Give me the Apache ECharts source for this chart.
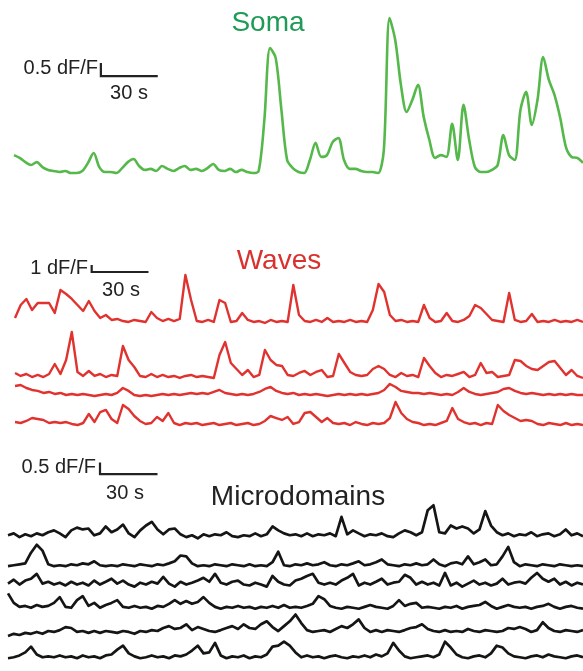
<!DOCTYPE html>
<html>
<head>
<meta charset="utf-8">
<title>Soma / Waves / Microdomains</title>
<script src="https://cdn.jsdelivr.net/npm/echarts@6/dist/echarts.min.js"></script>
<style>
    html, body { margin: 0; padding: 0; background: #fff; }
    #main { width: 583px; height: 671px; }
</style>
</head>
<body>
<div id="main"></div>
<script>
// seconds between two samples of every trace
var sampleStep = 3;

// soma trace, dF/F
var somaTrace = [
    0.65, 0.54, 0.38, 0.27, 0.38, 0.19, 0.08, 0.04, 0, 0.04,
    -0.04, -0.04, 0.04, 0.35, 0.73, 0.19, 0, 0, -0.04, 0.15,
    0.38, 0.5, 0.23, 0.08, 0.12, 0.04, 0.23, 0.12, 0.04, 0.15,
    0.23, 0.08, 0.12, 0.04, 0.15, 0.31, 0.08, 0.04, 0.12, 0,
    0.08, 0, -0.04, 0.04, 2.0, 4.77, 4.38, 2.38, 0.46, 0.15,
    0, -0.04, 0.46, 1.12, 0.58, 0.65, 1.15, 1.31, 0.46, 0.12,
    0.12, 0.04, 0, 0, -0.04, 0.85, 5.92, 5.08, 3.35, 2.31,
    2.77, 3.35, 2.12, 1.23, 0.54, 0.65, 0.58, 1.85, 0.46, 2.58,
    1.23, 0.19, 0, 0, 0.08, 0.27, 1.42, 0.65, 0.46, 2.38,
    3.08, 1.81, 2.77, 4.42, 3.54, 2.96, 2.08, 0.96, 0.58, 0.54,
    0.35
];

// wave traces, dF/F
var wave1 = [
    0.57, 2.43, 3.29, 1.71, 2.71, 2.71, 2.71, 1.29, 4.57, 4.0,
    3.29, 2.43, 1.57, 3.0, 1.57, 0.57, 1.0, 0.29, 0.43, 0.14,
    0, 0.29, 0.14, 0, 1.43, 0.57, 0.14, 0.43, 0.14, 0.43,
    6.71, 3.14, 0.14, 0, 0.29, 0, 3.14, 2.71, 0, 0.14,
    1.29, 0.29, 0, 0.14, -0.14, 0.29, 0, 0.14, 0, 5.29,
    1.0, 0.14, 0, 0.29, 0, 0.57, 0, 0.14, 0, 0.29,
    0, 0.14, 0, 1.71, 5.43, 4.29, 1.0, 0.14, 0.29, 0,
    0.14, 0, 2.43, 0.57, 0, 0.14, 1.29, 0.14, 0, 0.29,
    0.86, 2.43, 2.0, 1.14, 0.29, 0.14, 0, 4.14, 0.29, 0,
    0.14, 1.14, 0, 0.14, 0, 0.29, 0, 0.14, 0, 0.29,
    0
];
var wave2 = [
    0.29, -0.14, 0.14, -0.29, 0, -0.29, 0.14, 1.57, 0.14, 2.14,
    6.14, 0.43, -0.14, 0.57, -0.14, 0.14, -0.29, 0, -0.14, 4.14,
    2.14, 1.14, -0.14, -0.29, 0.14, -0.29, 0, -0.29, -0.14, -0.43,
    -0.14, 0, -0.29, -0.14, -0.29, -0.43, 2.86, 4.71, 1.71, 0.86,
    0, 0.71, -0.29, 0, 3.57, 2.14, 1.43, 1.29, 0, -0.14,
    0.29, 0.57, 0, 0.43, 0.71, -0.29, -0.14, 3.0, 1.71, 0.43,
    0, -0.14, 0, 0.86, 1.29, 0.86, 0, -0.29, 0.29, -0.14,
    0, -0.29, 2.43, 1.29, 0.29, -0.29, 0, -0.14, 0.14, 0.43,
    -0.29, 0, 1.71, 0.29, 0.43, -0.29, -0.14, 0, 2.14, 2.0,
    1.29, 0.86, 0.71, 1.29, 1.86, 2.0, 1.0, 0, 0.71, -0.14,
    -0.43
];
var wave3 = [
    1.0, 1.14, 0.71, 0.43, 0.29, 0, 0.14, -0.14, 0, -0.29,
    -0.14, -0.29, -0.14, -0.29, -0.43, -0.29, -0.14, -0.29, 0, 0.71,
    0.29, -0.29, -0.43, -0.29, -0.43, -0.29, -0.14, -0.29, -0.14, -0.29,
    -0.14, 0, -0.14, 0, -0.14, 0.14, 0.43, 0, -0.14, -0.29,
    -0.14, -0.29, -0.14, 0.14, 0.57, 0.86, 0.29, 0, -0.14, 0,
    -0.29, -0.14, -0.29, -0.14, -0.29, -0.43, -0.29, -0.14, -0.29, -0.14,
    -0.29, -0.14, -0.29, -0.14, 0, 0.43, 1.29, 0.86, 0.29, 0.14,
    0, 0, -0.14, 0, -0.14, -0.29, -0.14, -0.29, 0.14, 0.71,
    0.14, -0.14, -0.29, -0.14, 0, 0.14, 0.57, 0.71, 0.29, 0,
    -0.14, 0, -0.14, -0.29, -0.14, -0.29, -0.14, -0.29, -0.14, -0.29,
    -0.29
];
var wave4 = [
    0.14, 0, 0.29, 0.71, 0.57, 0.43, 0, 0.14, 0, 0.14,
    -0.14, -0.29, 0, 1.29, 0.14, 1.57, 1.86, 0.57, 0, 2.57,
    2.0, 1.0, 0.29, -0.14, 0, 0.86, 0.29, 1.43, 0, -0.29,
    0, -0.14, 0, -0.29, -0.14, 0, -0.29, -0.14, 0, -0.29,
    -0.14, 0, -0.29, -0.14, 0.29, 1.0, 0.71, 0.43, 0.86, -0.14,
    0.14, 1.43, 1.57, 0.86, 0.14, 0.71, 0, -0.14, 0, -0.29,
    0.14, -0.14, -0.29, 0, -0.14, 0, 0.71, 3.0, 1.43, 0.57,
    0.14, 0, -0.29, -0.14, -0.29, 0, 0.29, 2.14, 0.57, 0.14,
    -0.14, 0, -0.29, 0, -0.14, 2.57, 1.71, 1.14, 0.71, 0.29,
    0.43, 0.29, -0.14, -0.29, 0, -0.14, -0.29, 0, -0.29, -0.14,
    -0.29
];

// microdomain traces, dF/F
var micro1 = [
    0, 0.08, -0.08, 0.04, -0.04, 0.08, 0, 0.13, 0.21, 0.08,
    -0.08, 0.21, 0.33, 0.25, 0.29, 0, 0.08, 0.38, 0.13, 0.25,
    0.46, 0.08, -0.08, 0.21, 0.42, 0.58, 0.25, 0.04, 0.25, 0.29,
    0.04, -0.08, 0, -0.13, 0.04, -0.04, 0.04, 0, 0.13, -0.04,
    -0.08, 0, -0.04, 0.08, -0.04, 0.04, 0.38, 0.21, 0.08, 0,
    0.04, -0.04, 0.08, -0.04, 0.04, 0, 0.08, -0.04, 0.79, 0.04,
    0.21, 0.08, -0.04, 0.04, 0, 0.08, -0.04, -0.08, 0.08, 0.21,
    0.13, 0, 0.13, 1.08, 1.29, 0.13, 0.08, 0.42, 0.29, 0.38,
    0.29, 0.08, 0.25, 1.04, 0.42, 0.13, 0, 0.08, -0.04, 0.04,
    0, 0.13, -0.04, 0.04, 0.08, -0.04, 0.04, 0.25, 0, 0.08,
    -0.04
];
var micro2 = [
    -0.04, 0, 0.04, 0.08, 0.54, 0.88, 0.63, 0.04, -0.04, 0,
    -0.04, 0.04, 0, 0.08, 0.04, 0.17, 0, -0.04, 0, -0.04,
    0.04, 0, -0.04, 0.04, 0, -0.04, 0.04, 0, 0.08, 0.17,
    0.42, 0.38, 0.08, -0.04, 0, -0.04, 0.04, 0, -0.04, 0.04,
    0, -0.04, 0.04, -0.04, 0, -0.04, 0.13, 0.58, 0, -0.04,
    0.04, 0, 0.08, 0, 0.04, 0.13, 0, -0.04, 0.04, 0,
    0.08, 0.17, 0, 0.04, 0.13, 0.25, 0.04, 0, -0.04, 0.04,
    0, 0.08, 0, 0.04, 0.25, 0.04, -0.04, 0.08, 0.13, 0.04,
    0.38, 0.04, 0.13, 0.25, 0, 0.04, 0.38, 0.79, 0.13, -0.04,
    0.04, 0, -0.04, 0.04, 0, -0.04, 0.04, 0, -0.04, 0,
    -0.04
];
var micro3 = [
    0, 0.17, -0.04, 0.13, 0.21, 0.42, 0, 0.08, -0.04, 0.04,
    -0.08, 0.08, -0.04, 0.04, -0.08, 0.13, -0.04, 0.08, 0.21, 0,
    0.13, -0.04, -0.13, 0.04, -0.04, 0.08, 0, 0.29, 0, -0.13,
    0.08, -0.04, 0.04, 0.13, 0.25, 0.08, 0.42, 0.04, -0.04, 0.08,
    0.13, -0.04, -0.08, 0.04, -0.04, -0.13, 0.33, 0.08, -0.04, -0.08,
    0.13, 0.21, 0.33, 0.42, 0.04, -0.04, 0.04, -0.04, 0.13, 0.25,
    0.42, -0.08, 0.04, -0.04, 0.08, 0.21, -0.04, 0.04, 0.08, 0.38,
    0.25, -0.04, 0.08, -0.04, 0.04, -0.08, 0.46, -0.08, 0.04, -0.13,
    0, 0.13, -0.04, 0.04, -0.08, 0, 0.21, -0.04, 0.04, 0.08,
    0, 0.25, 0.46, 0.21, 0.08, 0.21, -0.04, 0.08, -0.08, 0.04,
    -0.04
];
var micro4 = [
    0.58, 0.17, 0, 0.04, -0.04, 0.08, 0, 0.04, 0.17, 0.42,
    0, -0.04, 0.29, 0.46, 0.04, 0.17, -0.04, 0.08, 0.17, 0.29,
    0, -0.04, 0.04, -0.04, 0, -0.08, 0.04, 0, 0.13, 0.29,
    0.13, 0.25, 0.13, 0.21, 0.42, 0.17, 0, -0.08, 0, -0.04,
    0.04, -0.04, 0, -0.08, 0, -0.04, 0.04, -0.04, 0.08, -0.04,
    0, -0.04, 0.04, 0.13, 0.46, 0.33, 0.04, -0.04, -0.08, 0,
    -0.04, -0.08, 0, 0.08, 0, -0.04, -0.08, 0.04, 0.29, 0.04,
    0.13, 0.17, -0.04, 0, -0.04, -0.08, 0, -0.04, 0.04, -0.08,
    0, 0.04, 0.08, 0.21, 0.04, -0.08, 0, 0.08, 0, -0.04,
    0, -0.08, 0, 0.04, 0.13, 0, -0.08, 0, 0.04, -0.04,
    -0.08
];
var micro5 = [
    -0.17, -0.08, -0.13, -0.04, -0.08, 0, -0.08, 0.04, 0, 0.08,
    0.21, 0.17, 0, 0.04, -0.04, 0.04, -0.04, 0.04, 0, -0.04,
    0.04, 0, -0.08, 0.04, 0, 0.08, 0.04, 0.17, 0.25, 0.13,
    0.17, 0.33, 0.08, 0.21, 0.13, 0.04, 0, 0.08, 0.17, 0.25,
    0.13, 0.33, 0.17, 0.13, 0.33, 0.46, 0.21, 0.04, 0.25, 0.46,
    0.75, 0.38, 0.08, 0, 0.04, 0.08, 0, 0.13, 0.25, 0.17,
    0.33, 0.54, 0.17, 0, 0.08, 0, 0.08, 0.04, 0, 0.08,
    0.17, 0.21, 0.33, 0.13, 0.04, 0, 0.08, 0, 0.04, 0,
    0.13, 0.04, 0, 0.08, 0.04, 0, 0.04, 0.17, 0.13, 0.21,
    0.13, 0, 0.08, 0.42, 0.17, 0.04, 0, 0.08, 0.04, 0,
    0.08
];
var micro6 = [
    -0.08, -0.04, 0.04, 0.17, 0.42, 0.08, -0.04, 0, -0.04, 0.04,
    -0.04, 0, -0.08, 0.04, -0.04, 0, -0.08, 0.04, 0.08, 0.29,
    0.46, 0.13, 0, -0.08, -0.04, 0.04, -0.04, 0, -0.08, 0.04,
    0, 0.08, 0.25, 0.46, 0.13, 0.17, 0.58, 0.04, -0.08, 0,
    -0.04, 0.04, -0.08, 0, -0.04, 0.08, 0.42, 0.46, 0.63, 0.46,
    0.17, -0.04, 0.04, -0.04, 0, -0.08, 0, 0.04, -0.04, -0.08,
    0, -0.04, 0.04, -0.04, 0.08, 0, 0.13, 0.58, 0.25, 0,
    -0.08, -0.04, 0, 0.04, -0.04, 0.08, 0.63, 0.38, 0.08, -0.04,
    -0.08, 0, 0.04, -0.04, 0.13, 0.46, 0.38, 0.13, 0, -0.04,
    -0.08, 0, 0.04, -0.04, 0.08, 0, -0.04, -0.08, 0, 0.04,
    -0.04
];

var waveTraces = [wave1, wave2, wave3, wave4];
var microTraces = [micro1, micro2, micro3, micro4, micro5, micro6];

// scale bars: time and amplitude they stand for
var barSeconds = 30;
var somaBarAmp = 0.5;
var waveBarAmp = 1;
var microBarAmp = 0.5;

// vertical stacking of the traces (layout, dF/F units)
var waveOffsets = [15.43, 7.86, 5.29, 1.0];
var microOffsets = [5.54, 4.25, 3.46, 2.46, 1.38, 0.33];

var chart = echarts.init(document.getElementById('main'));

function traceSeries(values, offset, gi, color, width, smooth) {
    var data = [];
    for (var i = 0; i < values.length; i++) {
        data.push([i * sampleStep, values[i] + offset]);
    }
    return {
        type: 'line',
        xAxisIndex: gi,
        yAxisIndex: gi,
        data: data,
        symbol: 'none',
        smooth: smooth || false,
        clip: false,
        silent: true,
        lineStyle: { color: color, width: width, join: 'round' }
    };
}

// L shaped bar, corner at (t0, v0)
function barSeries(t0, v0, amp, gi) {
    return {
        type: 'line',
        xAxisIndex: gi,
        yAxisIndex: gi,
        data: [[t0, v0 + amp], [t0, v0], [t0 + barSeconds, v0]],
        symbol: 'none',
        clip: false,
        silent: true,
        lineStyle: { color: '#222', width: 2.2, join: 'miter' }
    };
}

var series = [];
// the soma signal is slow, so its samples are joined with a light curve
series.push(traceSeries(somaTrace, 0, 0, '#55b84a', 2.6, 0.3));
for (var w = 0; w < waveTraces.length; w++) {
    series.push(traceSeries(waveTraces[w], waveOffsets[w], 1, '#e0322e', 2.4));
}
for (var m = 0; m < microTraces.length; m++) {
    series.push(traceSeries(microTraces[m], microOffsets[m], 2, '#151515', 2.7));
}
series.push(barSeries(45.8, 3.69, somaBarAmp, 0));
series.push(barSeries(40.5, 22.57, waveBarAmp, 1));
series.push(barSeries(48, 8.17, microBarAmp, 2));

var labelFont = '20px "Liberation Sans", Arial, sans-serif';
var titleFont = '28px "Liberation Sans", Arial, sans-serif';

function label(text, x, y, align, font, color) {
    return {
        type: 'text',
        x: x,
        y: y,
        silent: true,
        style: {
            text: text,
            font: font,
            fill: color,
            textAlign: align,
            textVerticalAlign: 'middle'
        }
    };
}

var option = {
    animation: false,
    backgroundColor: '#fff',
    grid: [
        { left: 14, top: 3, width: 570, height: 176.8 },
        { left: 15, top: 249.4, width: 570, height: 190.4 },
        { left: 8, top: 450.2, width: 575, height: 228 }
    ],
    xAxis: [
        { type: 'value', gridIndex: 0, min: 0, max: 300, show: false },
        { type: 'value', gridIndex: 1, min: 0, max: 300, show: false },
        { type: 'value', gridIndex: 2, min: 0, max: 300, show: false }
    ],
    yAxis: [
        { type: 'value', gridIndex: 0, min: -0.3, max: 6.5, show: false },
        { type: 'value', gridIndex: 1, min: -1.4, max: 25.8, show: false },
        { type: 'value', gridIndex: 2, min: -0.3, max: 9.2, show: false }
    ],
    graphic: [
        label('Soma', 268, 23, 'center', titleFont, '#1f9a57'),
        label('Waves', 279, 261, 'center', titleFont, '#d8312e'),
        label('Microdomains', 298, 497, 'center', titleFont, '#222'),
        label('0.5 dF/F', 98, 68, 'right', labelFont, '#222'),
        label('30 s', 129, 93, 'center', labelFont, '#222'),
        label('1 dF/F', 88, 268, 'right', labelFont, '#222'),
        label('30 s', 121, 290, 'center', labelFont, '#222'),
        label('0.5 dF/F', 96, 467, 'right', labelFont, '#222'),
        label('30 s', 125, 493, 'center', labelFont, '#222')
    ],
    series: series
};

option && chart.setOption(option);
</script>
</body>
</html>
